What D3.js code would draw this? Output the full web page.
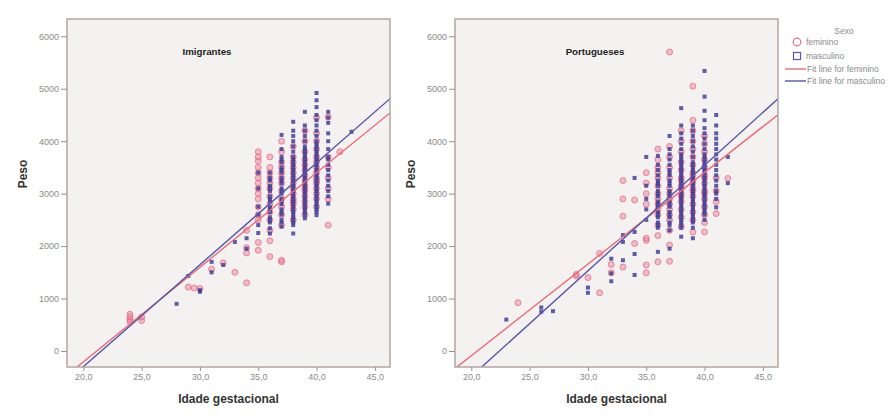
<!DOCTYPE html>
<html><head><meta charset="utf-8">
<script src="https://cdn.jsdelivr.net/npm/d3@7"></script>
<style>
body{margin:0;background:#fff}
svg{display:block}
text{font-family:"Liberation Sans",Arial,sans-serif}
</style>
</head><body>
<svg id="c" width="896" height="417"></svg>
<script>
// ---------- data ----------
const xTicks = [20, 25, 30, 35, 40, 45];
const yTicks = [0, 1000, 2000, 3000, 4000, 5000, 6000];
const panelTitles = ["Imigrantes", "Portugueses"];
const legendLabels = ["feminino", "masculino", "Fit line for feminino", "Fit line for masculino"];

// [idade gestacional, [pesos...]]
const imigFeminino = [
  [24,[560,600,650,700]],[25,[580,650]],[29,[1220]],[29.5,[1200]],[30,[1190]],[31,[1560]],[32,[1680]],[33,[1500]],
  [34,[1300,1870,1970,2300]],
  [35,[1920,2070,2500,2600,2750,2900,3000,3100,3200,3300,3400,3500,3620,3700,3800]],
  [36,[1800,2100,2300,2500,2650,2800,2950,3100,3200,3300,3400,3500,3700]],
  [37,[1700,1730,2400,2600,2750,2900,3050,3200,3300,3400,3500,3600,3800,4000]],
  [38,[2500,2700,2800,2850,2900,3000,3100,3200,3300,3400,3500,3600,3700,3900]],
  [39,[2600,2750,2850,2950,3050,3100,3150,3250,3350,3450,3550,3650,3800,4000,4200]],
  [40,[2750,2900,3000,3100,3200,3250,3300,3400,3500,3600,3700,3850,4000,4150,4450]],
  [41,[2400,2900,3100,3300,3500,3700,4460]],[42,[3800]]
];
const imigMasculino = [
  [28,[900]],[29,[1430]],[30,[1130,1160]],[31,[1500,1700]],[32,[1640]],[33,[2080]],[34,[1950,2150]],
  [35,[2250,2400,2600,2750,3100,3400]],
  [36,[2240,2340,2450,2500,2550,2650,2700,2750,2850,2900,2950,3050,3100,3150,3250,3300,3400]],
  [37,[2370,2450,2500,2600,2650,2700,2800,2850,2900,3000,3050,3100,3200,3250,3300,3400,3450,3500,3600,3650,3700,3850,4120]],
  [38,[2240,2400,2450,2500,2550,2600,2650,2700,2750,2800,2850,2900,2950,3000,3050,3100,3150,3200,3250,3300,3350,3400,3450,3500,3550,3600,3650,3700,3800,3900,4000,4100,4200,4370]],
  [39,[2530,2600,2650,2700,2750,2800,2850,2900,2950,3000,3050,3100,3150,3200,3250,3300,3350,3400,3450,3500,3550,3600,3650,3700,3750,3800,3850,3900,4000,4100,4200,4300,4560]],
  [40,[2590,2650,2700,2750,2800,2850,2900,2950,3000,3050,3100,3150,3200,3250,3300,3350,3400,3450,3500,3550,3600,3650,3700,3750,3800,3850,3900,3950,4000,4100,4200,4300,4400,4500,4650,4780,4920]],
  [41,[2810,2950,3050,3150,3250,3350,3450,3550,3650,3700,3850,4000,4150,4350,4450,4560]],
  [43,[4180]]
];
const portFeminino = [
  [24,[920]],[29,[1430,1460]],[30,[1400]],[31,[1110,1860]],[32,[1490,1650]],[33,[1600,2570,2900,3250]],
  [34,[2050,2880]],
  [35,[1490,1640,2110,2150,2800,3000,3200,3400]],
  [36,[1700,2200,2400,2600,2700,2800,2900,3000,3150,3300,3400,3500,3650,3850]],
  [37,[1710,2020,2300,2500,2600,2700,2800,2900,3000,3100,3300,3500,3700,3900,5700]],
  [38,[2370,2550,2700,2850,2950,3000,3100,3150,3250,3300,3450,3600,3800,4000,4200]],
  [39,[2270,2500,2650,2800,2950,3050,3100,3200,3250,3350,3400,3550,3700,3850,4000,4200,4400,5050]],
  [40,[2270,2450,2600,2750,2900,3000,3050,3200,3300,3350,3500,3650,3800,3950,4100]],
  [41,[2620,2850,3050,3300]],[42,[3290]]
];
const portMasculino = [
  [23,[600]],[26,[750,830]],[27,[760]],[30,[1110,1210]],[32,[1330,1480,1760]],[33,[1730,2080,2210]],
  [34,[1450,1850,2270,3300]],
  [35,[2500,2700,2900,3150,3700]],
  [36,[1890,2350,2400,2450,2550,2600,2650,2750,2800,2850,2950,3000,3050,3150,3200,3250,3350,3450,3550,3720]],
  [37,[1950,2300,2400,2450,2550,2600,2650,2750,2800,2850,2950,3000,3050,3150,3200,3250,3350,3400,3450,3550,3650,3750,3850,4100]],
  [38,[2180,2350,2400,2450,2500,2550,2600,2650,2700,2750,2800,2850,2900,2950,3000,3050,3100,3150,3200,3250,3300,3350,3400,3450,3500,3550,3600,3650,3700,3750,3850,3950,4050,4150,4300,4630]],
  [39,[2150,2350,2450,2500,2550,2600,2650,2700,2750,2800,2850,2900,2950,3000,3050,3100,3150,3200,3250,3300,3350,3400,3450,3500,3550,3600,3700,3800,3900,4000,4100,4200,4300]],
  [40,[2500,2600,2650,2700,2750,2800,2850,2900,2950,3000,3050,3100,3150,3200,3250,3300,3350,3400,3450,3500,3550,3600,3650,3700,3750,3850,3950,4050,4150,4250,4400,4580,4850,5340]],
  [41,[2740,2900,3000,3050,3150,3250,3350,3450,3550,3650,3750,3850,3950,4050,4150,4300,4500]],
  [42,[3200,3700]]
];
// fit lines: [intercept, slope] (peso = a + b * idade)
const imigFitFeminino = [-3818, 180.5];
const imigFitMasculino = [-4185, 194.3];
const portFitFeminino = [-3584, 174.7];
const portFitMasculino = [-4510, 201.3];

// ---------- drawing ----------
const svg = d3.select("#c");
const W = 323, H = 348;
const x = d3.scaleLinear().domain([18.6, 46.3]).range([0, W]);
const y = d3.scaleLinear().domain([-305, 6330]).range([H, 0]);
const colFem = "#e8657f", colMas = "#3d3a96";
const lineFem = "#ec6a7a", lineMas = "#5856aa";

const panels = [
  {ox: 67, title: panelTitles[0], fem: imigFeminino, mas: imigMasculino, fitF: imigFitFeminino, fitM: imigFitMasculino},
  {ox: 455, title: panelTitles[1], fem: portFeminino, mas: portMasculino, fitF: portFitFeminino, fitM: portFitMasculino}
];
const flat = arr => arr.flatMap(([w, ps]) => ps.map(p => ({w, p})));

panels.forEach((P, i) => {
  const g = svg.append("g").attr("transform", `translate(${P.ox},19)`);
  const cid = "clip" + i;
  g.append("clipPath").attr("id", cid).append("rect").attr("width", W).attr("height", H);
  g.append("rect").attr("width", W).attr("height", H).attr("fill", "#f3f2f0");

  const plot = g.append("g").attr("clip-path", `url(#${cid})`);
  plot.selectAll(".f").data(flat(P.fem)).join("circle")
    .attr("cx", d => x(d.w)).attr("cy", d => y(d.p)).attr("r", 3)
    .attr("fill", "rgba(238,130,158,0.5)").attr("stroke", colFem).attr("stroke-opacity", 0.7).attr("stroke-width", 1);
  plot.selectAll(".m").data(flat(P.mas)).join("rect")
    .attr("x", d => x(d.w) - 2).attr("y", d => y(d.p) - 2).attr("width", 4).attr("height", 4)
    .attr("fill", colMas).attr("fill-opacity", 0.82);

  const dom = x.domain();
  [[P.fitF, lineFem], [P.fitM, lineMas]].forEach(([ab, c]) => {
    plot.append("line")
      .attr("x1", x(dom[0])).attr("y1", y(ab[0] + ab[1] * dom[0]))
      .attr("x2", x(dom[1])).attr("y2", y(ab[0] + ab[1] * dom[1]))
      .attr("stroke", c).attr("stroke-width", 1.4);
  });

  g.append("rect").attr("width", W).attr("height", H).attr("fill", "none")
    .attr("stroke", "#b3a7a3").attr("stroke-width", 1.5);

  const ya = g.append("g").call(d3.axisLeft(y).tickValues(yTicks).tickSize(6).tickPadding(2).tickFormat(d3.format("d")));
  const xa = g.append("g").attr("transform", `translate(0,${H})`)
    .call(d3.axisBottom(x).tickValues(xTicks).tickSize(4).tickPadding(3).tickFormat(d => d.toFixed(1).replace(".", ",")));
  [ya, xa].forEach(a => {
    a.select(".domain").remove();
    a.selectAll("line").attr("stroke", "#9a9090");
    a.selectAll("text").attr("fill", "#8a8a8a").style("font-size", "9px");
  });

  g.append("text").attr("x", 140).attr("y", 36).attr("text-anchor", "middle")
    .style("font-size", "9.7px").style("font-weight", "bold").attr("fill", "#222").text(P.title);

  g.append("text").attr("x", W / 2).attr("y", 384).attr("text-anchor", "middle")
    .style("font-size", "12px").style("font-weight", "bold").attr("fill", "#333").text("Idade gestacional");
  g.append("text").attr("transform", `translate(-40,${H/2 - 19}) rotate(-90)`).attr("text-anchor", "middle")
    .style("font-size", "12px").style("font-weight", "bold").attr("fill", "#333").text("Peso");
});

// legend
const lg = svg.append("g");
lg.append("text").attr("x", 844).attr("y", 34).attr("text-anchor", "middle")
  .style("font-size", "8.5px").attr("fill", "#8a8a8a").text("Sexo");
const rows = [42, 56, 69, 81];
lg.append("circle").attr("cx", 797).attr("cy", rows[0]).attr("r", 3.8)
  .attr("fill", "#fff").attr("stroke", colFem).attr("stroke-width", 1.2);
lg.append("rect").attr("x", 793.5).attr("y", rows[1] - 3.5).attr("width", 7).attr("height", 7)
  .attr("fill", "#fff").attr("stroke", "#5a58a8").attr("stroke-width", 1.2);
lg.append("line").attr("x1", 785).attr("x2", 806).attr("y1", rows[2]).attr("y2", rows[2]).attr("stroke", lineFem).attr("stroke-width", 1.4);
lg.append("line").attr("x1", 785).attr("x2", 806).attr("y1", rows[3]).attr("y2", rows[3]).attr("stroke", lineMas).attr("stroke-width", 1.4);
legendLabels.forEach((t, k) => {
  lg.append("text").attr("x", k < 2 ? 806 : 807).attr("y", rows[k] + 3)
    .style("font-size", "8.5px").attr("fill", "#8a8a8a").text(t);
});
</script>
</body></html>
